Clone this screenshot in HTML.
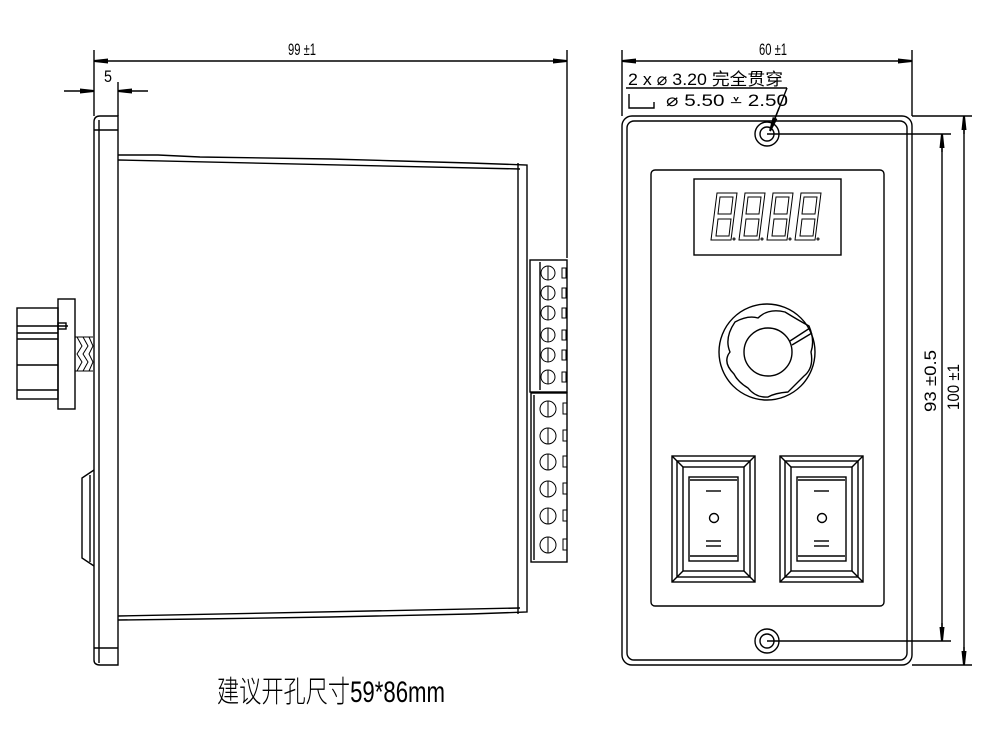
<!DOCTYPE html>
<html><head><meta charset="utf-8"><style>
html,body{margin:0;padding:0;background:#fff;}
svg{display:block}
text{font-family:"Liberation Sans Narrow","Liberation Sans","Noto Sans CJK SC",sans-serif;fill:#000}
</style></head><body>
<svg width="985" height="731" viewBox="0 0 985 731" xmlns="http://www.w3.org/2000/svg">
<defs>
<marker id="a" markerWidth="14" markerHeight="8" refX="14" refY="4" orient="auto" markerUnits="userSpaceOnUse"><path d="M0,1.5 L14,3 L14,5 L0,6.5 Z" fill="#000"/></marker>
</defs>
<g stroke="#000" stroke-width="1.4" fill="none">
<line x1="94" y1="50" x2="94" y2="116"/>
<line x1="567" y1="50" x2="567" y2="258"/>
<line x1="108" y1="61" x2="94" y2="61" marker-end="url(#a)"/>
<line x1="94" y1="61" x2="567" y2="61"/>
<line x1="553" y1="61" x2="567" y2="61" marker-end="url(#a)"/>
<line x1="118" y1="82" x2="118" y2="116"/>
<line x1="64" y1="91" x2="94" y2="91" marker-end="url(#a)"/>
<line x1="148" y1="91" x2="118" y2="91" marker-end="url(#a)"/>
<path d="M94,660 L94,122 Q94,116 100,116 L118,116 L118,665 L100,665 Q94,665 94,660 Z"/>
<line x1="99" y1="120" x2="99" y2="663"/>
<line x1="94" y1="130" x2="118" y2="130"/>
<line x1="94" y1="648" x2="118" y2="648"/>
<path d="M118,155 L158,155 L200,157 L330,159 L400,161 L470,163 L527,165 L527,612 L470,614 L330,617 L200,619 L118,620"/>
<line x1="118" y1="160" x2="520" y2="169"/>
<line x1="118" y1="616" x2="520" y2="608"/>
<line x1="518" y1="163" x2="518" y2="614"/>
<rect x="530" y="260" width="37" height="132"/>
<line x1="540" y1="262" x2="540" y2="390"/>
<rect x="531" y="393" width="36" height="169"/>
<line x1="534" y1="395" x2="534" y2="560"/>
<rect x="58" y="299" width="17" height="110"/>
<rect x="17" y="308" width="41" height="91"/>
<line x1="17" y1="326" x2="68" y2="326"/>
<line x1="17" y1="333" x2="58" y2="333"/>
<line x1="17" y1="339" x2="58" y2="339"/>
<line x1="17" y1="365" x2="58" y2="365"/>
<line x1="17" y1="390" x2="58" y2="390"/>
<rect x="58" y="323" width="8" height="6"/>
<path stroke-width="1" d="M75,337 L93,337 M75,371 L93,371 M77,337 L82,346 L77,354 L82,362 L77,371 M83,337 L88,346 L83,354 L88,362 L83,371 M89,337 L93,346 L89,354 L93,362 L89,371"/>
<path d="M94,470 L82,478 L82,558 L94,566"/>
<line x1="90" y1="475" x2="90" y2="562"/>
<rect x="622" y="116" width="290" height="549" rx="10"/>
<rect x="627" y="121" width="280" height="539" rx="7"/>
<rect x="651" y="170" width="233" height="436" rx="4"/>
<rect x="694" y="179" width="147" height="76"/>
<circle cx="767" cy="134" r="12"/><circle cx="767" cy="134" r="7"/>
<circle cx="767" cy="641" r="12"/><circle cx="767" cy="641" r="7"/>
<line x1="622" y1="50" x2="622" y2="116"/>
<line x1="912" y1="50" x2="912" y2="116"/>
<line x1="636" y1="61" x2="622" y2="61" marker-end="url(#a)"/>
<line x1="622" y1="61" x2="912" y2="61"/>
<line x1="898" y1="61" x2="912" y2="61" marker-end="url(#a)"/>
<line x1="912" y1="116" x2="972" y2="116"/>
<line x1="912" y1="665" x2="972" y2="665"/>
<line x1="767" y1="134" x2="951" y2="134"/>
<line x1="767" y1="641" x2="951" y2="641"/>
<line x1="942" y1="134" x2="942" y2="641"/>
<line x1="964" y1="116" x2="964" y2="665"/>
<line x1="942" y1="152" x2="942" y2="134" marker-end="url(#a)"/>
<line x1="942" y1="623" x2="942" y2="641" marker-end="url(#a)"/>
<line x1="964" y1="134" x2="964" y2="116" marker-end="url(#a)"/>
<line x1="964" y1="647" x2="964" y2="665" marker-end="url(#a)"/>
<line x1="626" y1="88" x2="787" y2="88"/>
<line x1="787" y1="88" x2="770" y2="131"/>
<line x1="779" y1="108" x2="770" y2="131" marker-end="url(#a)"/>
<path d="M629,94 L629,108 L654,108 L654,102"/>
<circle cx="767" cy="352" r="48"/>
<path d="M735,322 Q748,315 758,318 Q768,308 785,312 Q798,320 809,326 Q815,340 811,352 Q814,368 804,376 Q795,385 788,392 Q775,393 768,397 Q756,398 748,388 Q738,382 734,374 Q722,362 730,352 Q724,338 735,322 Z"/>
<circle cx="768" cy="352" r="24"/>
<line x1="790" y1="341" x2="810" y2="328"/><line x1="792" y1="345" x2="812" y2="333"/>
<g id="sw">
<rect x="672" y="456" width="83" height="126"/>
<rect x="677" y="461" width="73" height="116"/>
<rect x="683" y="467" width="61" height="104"/>
<rect x="689" y="477" width="49" height="84"/>
<line x1="672" y1="456" x2="683" y2="467"/><line x1="755" y1="456" x2="744" y2="467"/>
<line x1="672" y1="582" x2="683" y2="571"/><line x1="755" y1="582" x2="744" y2="571"/>
<line x1="690" y1="480" x2="737" y2="480"/><line x1="690" y1="556" x2="737" y2="556"/>
<line x1="706" y1="491" x2="721" y2="491"/>
<circle cx="714" cy="518" r="4.5"/>
<line x1="706" y1="541" x2="721" y2="541"/><line x1="706" y1="546" x2="721" y2="546"/>
</g>
<use href="#sw" x="108"/>
<g stroke-width="1">
<g id="dg">
<path d="M717,193 L737,193 L731,240 L711,240 Z"/>
<path d="M720,197 L733,197 L731,214 L718,214 Z"/>
<path d="M718,219 L731,219 L729,236 L716,236 Z"/>
<circle cx="734" cy="239" r="1"/>
</g>
<use href="#dg" x="28"/><use href="#dg" x="56"/><use href="#dg" x="84"/>
</g>
<g stroke-width="1">
<circle cx="548" cy="273" r="7"/><line x1="548" y1="266" x2="548" y2="280"/><rect x="562" y="268" width="4" height="10"/>
<circle cx="548" cy="293" r="7"/><line x1="548" y1="286" x2="548" y2="300"/><rect x="562" y="288" width="4" height="10"/>
<circle cx="548" cy="313" r="7"/><line x1="548" y1="306" x2="548" y2="320"/><rect x="562" y="308" width="4" height="10"/>
<circle cx="548" cy="335" r="7"/><line x1="548" y1="328" x2="548" y2="342"/><rect x="562" y="330" width="4" height="10"/>
<circle cx="548" cy="355" r="7"/><line x1="548" y1="348" x2="548" y2="362"/><rect x="562" y="350" width="4" height="10"/>
<circle cx="548" cy="377" r="7"/><line x1="548" y1="370" x2="548" y2="384"/><rect x="562" y="372" width="4" height="10"/>
<circle cx="548" cy="409" r="8"/><line x1="548" y1="401" x2="548" y2="417"/><rect x="563" y="403" width="4" height="11"/>
<circle cx="548" cy="436" r="8"/><line x1="548" y1="428" x2="548" y2="444"/><rect x="563" y="430" width="4" height="11"/>
<circle cx="548" cy="462" r="8"/><line x1="548" y1="454" x2="548" y2="470"/><rect x="563" y="456" width="4" height="11"/>
<circle cx="548" cy="489" r="8"/><line x1="548" y1="481" x2="548" y2="497"/><rect x="563" y="483" width="4" height="11"/>
<circle cx="548" cy="516" r="8"/><line x1="548" y1="508" x2="548" y2="524"/><rect x="563" y="510" width="4" height="11"/>
<circle cx="548" cy="545" r="8"/><line x1="548" y1="537" x2="548" y2="553"/><rect x="563" y="539" width="4" height="11"/>
</g>
</g>
<text x="288" y="55" font-size="17" textLength="28" lengthAdjust="spacingAndGlyphs">99 ±1</text>
<text x="104" y="82" font-size="17" textLength="8" lengthAdjust="spacingAndGlyphs">5</text>
<text x="759" y="55" font-size="17" textLength="28" lengthAdjust="spacingAndGlyphs">60 ±1</text>
<text x="628" y="85" font-size="17" textLength="155" lengthAdjust="spacingAndGlyphs">2 x  ⌀ 3.20  完全贯穿</text>
<text x="666" y="106" font-size="17" textLength="122" lengthAdjust="spacingAndGlyphs">⌀ 5.50  ⩡  2.50</text>
<text transform="translate(936,412) rotate(-90)" font-size="17" textLength="62" lengthAdjust="spacingAndGlyphs">93 ±0.5</text>
<text transform="translate(959,410) rotate(-90)" font-size="17" textLength="46" lengthAdjust="spacingAndGlyphs">100 ±1</text>
<text x="217" y="702" font-size="30" textLength="228" lengthAdjust="spacingAndGlyphs" style="font-weight:300">建议开孔尺寸59*86mm</text>
</svg>
</body></html>
